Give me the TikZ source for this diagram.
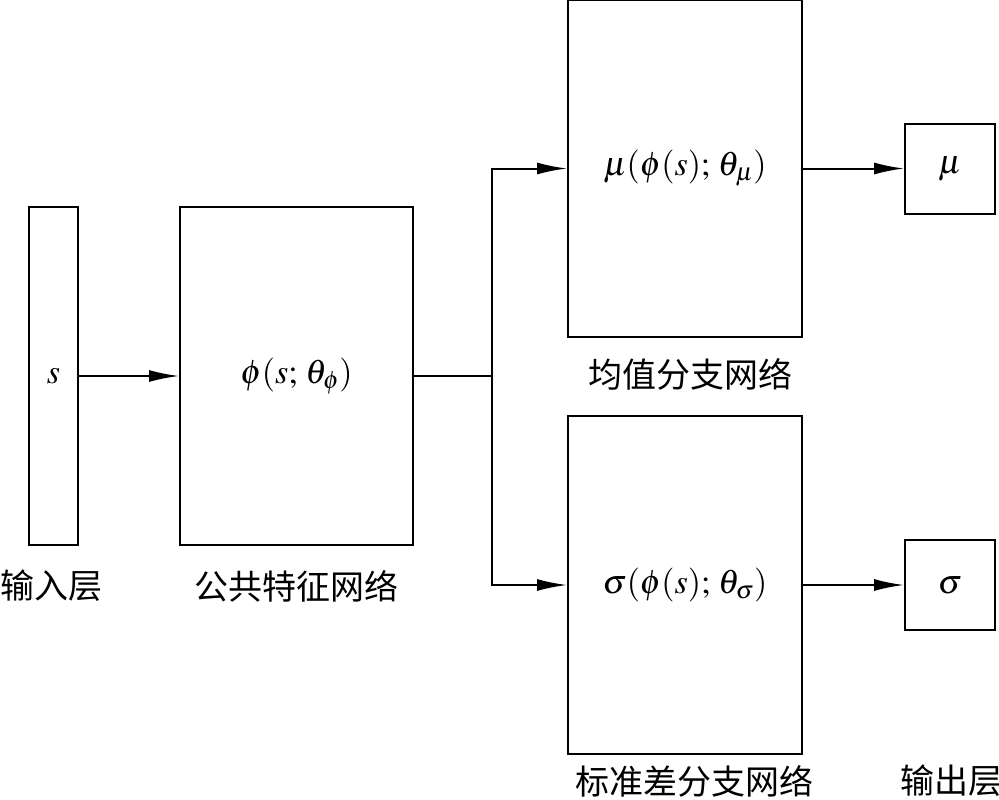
\documentclass[tikz,border=0pt]{standalone}
\usepackage{mathptmx}
\usepackage{fontspec}
\newfontfamily\cjk{Noto Sans CJK SC}
\usetikzlibrary{arrows.meta,positioning}

\tikzset{
  box/.style={draw, line width=2pt, inner sep=0pt},
  link/.style={line width=2pt, -{Latex[length=30pt,width=12pt]}},
  wire/.style={line width=2pt},
  lab/.style={font=\cjk\fontsize{34}{36}\selectfont}
}

\begin{document}
\begin{tikzpicture}[x=1pt, y=-1pt, font=\fontsize{34}{38}\selectfont]
\useasboundingbox (0,0) rectangle (999,800);

\node[box, minimum width=49pt, minimum height=338pt] (in) at (53.5,376) {$s$};
\node[box, minimum width=233pt, minimum height=338pt] (common) at (296.5,376) {$\phi(s;\,\theta_\phi)$};
\node[box, minimum width=234pt, minimum height=337pt] (mean) at (685,168.5) {$\mu(\phi(s);\,\theta_\mu)$};
\node[box, minimum width=234pt, minimum height=338pt] (std) at (685,585) {$\sigma(\phi(s);\,\theta_\sigma)$};
\node[box, minimum width=90pt, minimum height=90pt] (outmu) at (950,168.5) {$\mu$};
\node[box, minimum width=90pt, minimum height=90pt] (outsigma) at (950,585) {$\sigma$};

\coordinate (split) at (492,376);

\draw[link] (in) -- (common);
\draw[wire] (common) -- (split);
\draw[link] (split) |- (mean);
\draw[link] (split) |- (std);
\draw[link] (mean) -- (outmu);
\draw[link] (std) -- (outsigma);

% labels
\node[lab] (inlab) at (52,586) {输入层};
\node[lab] (commonlab) at (296,586) {公共特征网络};
\node[lab] (meanlab) at (690,374) {均值分支网络};
\node[lab] (stdlab) at (694,781) {标准差分支网络};
\node[lab] (outlab) at (951,781) {输出层};
\end{tikzpicture}
\end{document}
